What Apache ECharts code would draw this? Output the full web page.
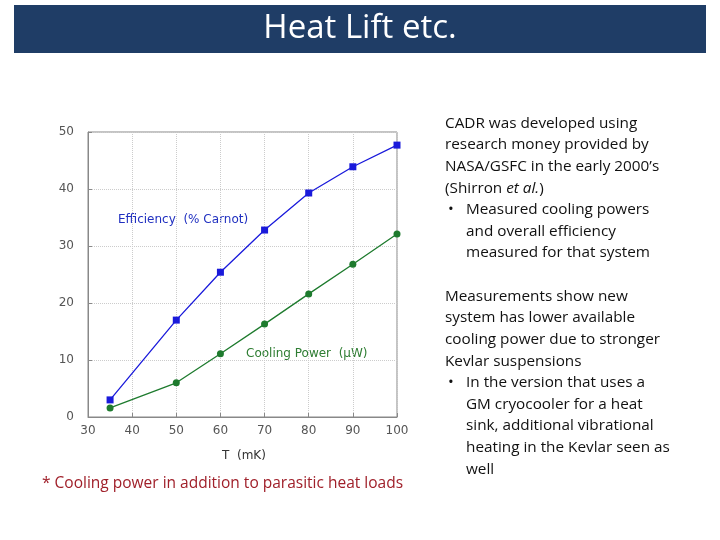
<!DOCTYPE html>
<html><head><meta charset="utf-8">
<script src="https://cdn.jsdelivr.net/npm/echarts@6/dist/echarts.min.js"></script>
<style>html,body{margin:0;padding:0;background:#fff}#c{width:720px;height:540px}</style>
</head><body><div id="c"></div>
<script>
const temps = [35, 50, 60, 70, 80, 90, 100];
const efficiency = [3.0, 17.0, 25.4, 32.8, 39.3, 43.9, 47.7];
const coolingPower = [1.6, 6.0, 11.1, 16.3, 21.6, 26.8, 32.1];
const xTicks = [30, 40, 50, 60, 70, 80, 90, 100];
const yTicks = [0, 10, 20, 30, 40, 50];

const fnt = "'Open Sans', 'Liberation Sans', sans-serif";
const rightText1 = ["CADR was developed using","research money provided by","NASA/GSFC in the early 2000\u2019s","(Shirron {i|et al.})"];
const bullet1 = ["Measured cooling powers","and overall efficiency","measured for that system"];
const rightText2 = ["Measurements show new","system has lower available","cooling power due to stronger","Kevlar suspensions"];
const bullet2 = ["In the version that uses a","GM cryocooler for a heat","sink, additional vibrational","heating in the Kevlar seen as","well"];

const gfx = [
  {type:'rect', shape:{x:14,y:5,width:692,height:48}, style:{fill:'#1F3D66'}},
  {type:'text', left:'center', top:12, style:{text:'Heat Lift etc.', fill:'#fff', font:"33px "+fnt}},
  {type:'text', left:42, top:476, style:{text:'* Cooling power in addition to parasitic heat loads', fill:'#A0202A', font:"15.5px "+fnt}},
  {type:'text', left:118, top:214, style:{text:'Efficiency  (% Carnot)', fill:'#2030C0', font:"12px 'DejaVu Sans', sans-serif"}},
  {type:'text', left:246, top:348, style:{text:'Cooling Power  (\u03bcW)', fill:'#2E7D32', font:"12px 'DejaVu Sans', sans-serif"}},
  {type:'text', left:222, top:450, style:{text:'T  (mK)', fill:'#333', font:"12px 'DejaVu Sans', sans-serif"}}
];
let y = 116;
const lh = 21.6;
const tf = "15.3px "+fnt;
function addLines(lines, x){ lines.forEach(l=>{ gfx.push({type:'text', left:x, top:y, style:{text:l, fill:'#111', font:tf, rich:{i:{fontStyle:'italic', fontSize:15.3, fontFamily:"'Open Sans', sans-serif", fill:'#111'}}}}); y+=lh; }); }
addLines(rightText1, 445);
gfx.push({type:'text', left:448, top:y, style:{text:'\u2022', fill:'#111', font:tf}});
addLines(bullet1, 466);
y = 289;
addLines(rightText2, 445);
gfx.push({type:'text', left:448, top:y, style:{text:'\u2022', fill:'#111', font:tf}});
addLines(bullet2, 466);

const axisLab = {color:'#555', fontSize:12, fontFamily:"'DejaVu Sans', sans-serif"};
const chart = echarts.init(document.getElementById('c'));
chart.setOption({
  animation:false,
  grid:{left:88, right:323, top:132, bottom:123, show:true, borderColor:'#888', borderWidth:1},
  xAxis:{type:'value', min:30, max:100, interval:10, axisLine:{lineStyle:{color:'#888'}},
    axisTick:{inside:true, length:4, lineStyle:{color:'#888'}}, axisLabel:{...axisLab, margin:8, formatter:v=>xTicks.includes(v)?String(v):''},
    splitLine:{show:true, lineStyle:{color:'#ccc', type:'dotted'}}},
  yAxis:{type:'value', min:0, max:50, interval:10, axisLine:{show:true, lineStyle:{color:'#888'}},
    axisTick:{show:true, inside:true, length:4, lineStyle:{color:'#888'}}, axisLabel:{...axisLab, margin:14, formatter:v=>yTicks.includes(v)?String(v):''},
    splitLine:{show:true, lineStyle:{color:'#ccc', type:'dotted'}}},
  series:[
    {type:'line', data:temps.map((t,i)=>[t,efficiency[i]]), symbol:'rect', symbolSize:7,
      lineStyle:{color:'#1a1adb', width:1.3}, itemStyle:{color:'#1a1adb'}},
    {type:'line', data:temps.map((t,i)=>[t,coolingPower[i]]), symbol:'circle', symbolSize:7,
      lineStyle:{color:'#1E7B2E', width:1.3}, itemStyle:{color:'#1E7B2E'}}
  ],
  graphic: gfx
});
</script></body></html>
